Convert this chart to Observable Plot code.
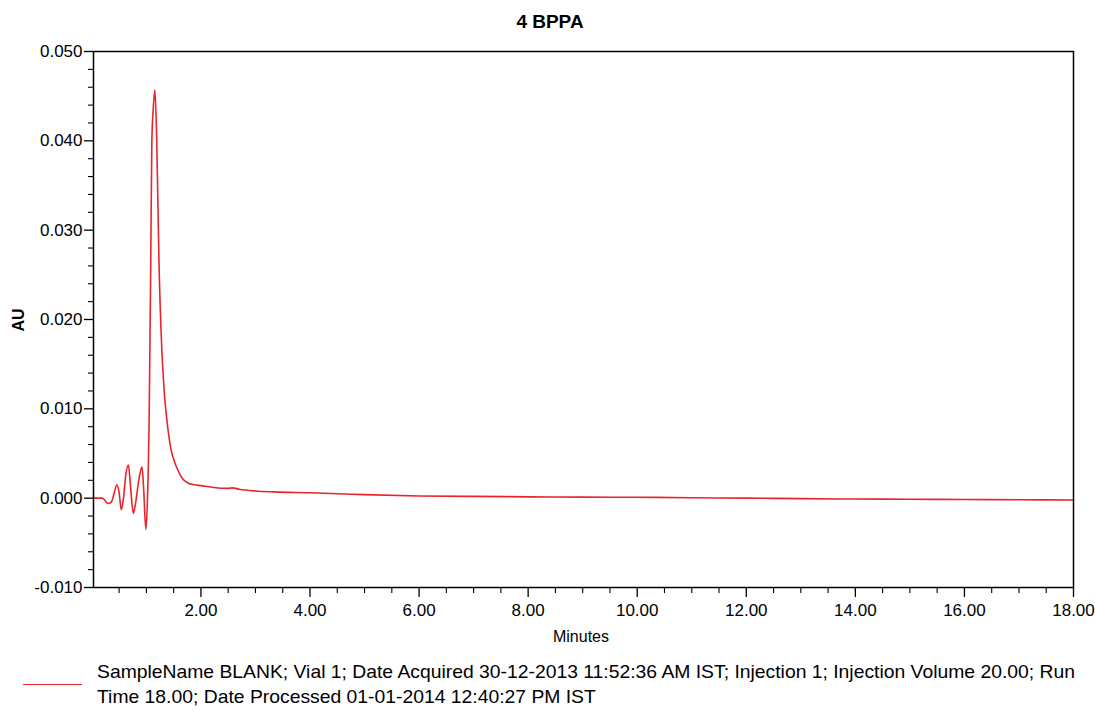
<!DOCTYPE html>
<html>
<head>
<meta charset="utf-8">
<script src="https://cdn.jsdelivr.net/npm/d3@7"></script>
<script src="https://cdn.jsdelivr.net/npm/@observablehq/plot@0.6"></script>
<style>
  html, body { margin: 0; padding: 0; background: white; }
  #wrap { position: relative; width: 1095px; height: 710px; overflow: hidden; font-family: "Liberation Sans", Arial, sans-serif; color: black; }
  #chart { position: absolute; left: 0; top: 0; }
  .abs { position: absolute; white-space: nowrap; }
</style>
</head>
<body>
<div id="wrap">
  <div id="chart"></div>
  <div id="title" class="abs" style="left:0;width:1100px;top:11px;text-align:center;font-size:19px;font-weight:bold;line-height:22px;"></div>
  <div id="ylab" class="abs" style="left:19px;top:320px;font-size:16px;font-weight:bold;line-height:16px;transform:translate(-50%,-50%) rotate(-90deg);">AU</div>
  <div id="xlab" class="abs" style="left:581px;top:637px;font-size:16px;line-height:16px;transform:translate(-50%,-50%);">Minutes</div>
  <div id="legline" class="abs" style="left:23px;top:684px;width:59px;height:0;border-top:1.6px solid #e8242c;"></div>
  <div id="leg1" class="abs" style="left:97px;top:662px;font-size:19px;line-height:19px;transform-origin:0 0;"></div>
  <div id="leg2" class="abs" style="left:97px;top:687px;font-size:19px;line-height:19px;transform-origin:0 0;"></div>
</div>
<script>
// ---- data ----
const minutes = [0.03, 0.10, 0.18, 0.22, 0.27, 0.31, 0.36, 0.41, 0.46, 0.50, 0.54, 0.58, 0.62, 0.67, 0.71, 0.76, 0.80, 0.86, 0.92, 0.95, 0.99, 1.02, 1.05, 1.08, 1.10, 1.13, 1.156, 1.19, 1.23, 1.27, 1.32, 1.38, 1.45, 1.52, 1.58, 1.66, 1.76, 1.88, 2.00, 2.24, 2.50, 2.58, 2.70, 3.00, 3.34, 4.00, 4.50, 5.00, 6.00, 7.00, 8.00, 9.00, 10.00, 11.00, 12.00, 13.00, 14.00, 15.00, 16.00, 17.00, 18.00];
const au      = [0.0000, 0.0000, 0.0000, -0.0001, -0.0005, -0.0006, -0.0004, 0.0006, 0.0015, 0.0006, -0.0013, 0.0000, 0.0025, 0.0037, 0.0012, -0.0017, -0.0006, 0.0020, 0.0035, 0.0010, -0.0035, 0.0000, 0.0087, 0.0266, 0.0400, 0.0440, 0.0457, 0.0400, 0.0266, 0.0185, 0.0125, 0.0085, 0.0055, 0.0040, 0.0031, 0.0022, 0.0017, 0.0015, 0.0014, 0.0012, 0.0011, 0.00115, 0.0010, 0.0008, 0.0007, 0.0006, 0.0005, 0.0004, 0.00025, 0.0002, 0.00015, 0.00012, 0.0001, 0.00005, 0.0000, -0.00005, -0.0001, -0.00012, -0.00015, -0.00018, -0.0002];

const xMajorTicks = [2, 4, 6, 8, 10, 12, 14, 16, 18];
const xMinorTicks = [0.5, 1, 1.5, 2.5, 3, 3.5, 4.5, 5, 5.5, 6.5, 7, 7.5, 8.5, 9, 9.5, 10.5, 11, 11.5, 12.5, 13, 13.5, 14.5, 15, 15.5, 16.5, 17, 17.5];
const yMajorTicks = [-0.010, 0.000, 0.010, 0.020, 0.030, 0.040, 0.050];
const yMinorTicks = [-0.008, -0.006, -0.004, -0.002, 0.002, 0.004, 0.006, 0.008, 0.012, 0.014, 0.016, 0.018, 0.022, 0.024, 0.026, 0.028, 0.032, 0.034, 0.036, 0.038, 0.042, 0.044, 0.046, 0.048];

const titleText = "4 BPPA";
const legendLines = [
  "SampleName BLANK; Vial 1; Date Acquired 30-12-2013 11:52:36 AM IST; Injection 1; Injection Volume 20.00; Run",
  "Time 18.00; Date Processed 01-01-2014 12:40:27 PM IST"
];

const rows = minutes.map((t, i) => ({t, v: au[i]}));
const red = "#e8242c";
const fmtY = d => d3.format(".3f")(d).replace("\u2212", "-");

const chart = Plot.plot({
  width: 1095,
  height: 660,
  marginLeft: 93,
  marginRight: 22,
  marginTop: 51,
  marginBottom: 73,
  x: {domain: [0.03, 18]},
  y: {domain: [-0.010, 0.050]},
  style: {fontFamily: '"Liberation Sans", Arial, sans-serif', fontSize: "17px", color: "black", background: "white", overflow: "visible"},
  marks: [
    Plot.axisY(yMajorTicks, {tickSize: 9, tickPadding: 2, tickFormat: fmtY, label: null, fontSize: 17, strokeWidth: 1.3}),
    Plot.axisY(yMinorTicks, {tickSize: 5, text: null, label: null, strokeWidth: 1.1}),
    Plot.axisX(xMajorTicks, {tickSize: 10, tickPadding: 6, tickFormat: d3.format(".2f"), label: null, fontSize: 17, strokeWidth: 1.3}),
    Plot.axisX(xMinorTicks, {tickSize: 6, text: null, label: null, strokeWidth: 1.1}),
    Plot.line(rows, {x: "t", y: "v", stroke: red, strokeWidth: 1.6, curve: "monotone-x"}),
    Plot.frame({stroke: "black", strokeWidth: 1.5})
  ]
});
document.getElementById("chart").appendChild(chart);

document.getElementById("title").textContent = titleText;
const l1 = document.getElementById("leg1");
const l2 = document.getElementById("leg2");
l1.textContent = legendLines[0];
l2.textContent = legendLines[1];
const w1 = l1.getBoundingClientRect().width;
const s = 978 / w1;
l1.style.transform = `scaleX(${s})`;
l2.style.transform = `scaleX(${s})`;
</script>
</body>
</html>
